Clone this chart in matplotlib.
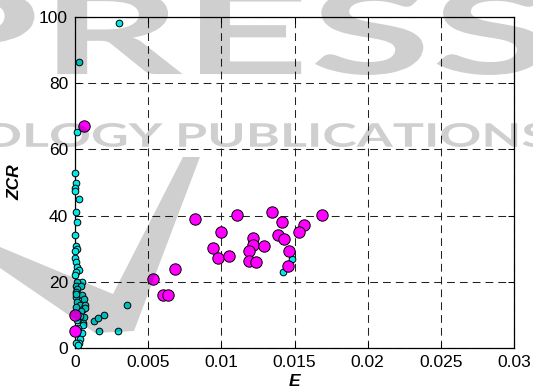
import matplotlib
matplotlib.use('Agg')
import matplotlib.pyplot as plt
from matplotlib.textpath import TextPath
from matplotlib.font_manager import FontProperties
from matplotlib.patches import PathPatch, Polygon
from matplotlib.transforms import Affine2D

plt.rcParams['font.family'] = ['Liberation Sans', 'DejaVu Sans']

# speech frames (cyan) : energy E and zero crossing rate ZCR
speech_e = [0.00298, 0.00025, 0.00014, 0.0, 0.0001, 0.0, 0.00002, 0.0003, 0.00006,
            0.00014, 0.0, 0.00008, 0.00013, 0.00003, 0.00002, 0.00006, 0.00016,
            0.00027, 0.00009, 0.00002, 0.00046, 0.00011, 0.00005, 0.00043, 0.00016,
            0.00005, 0.00046, 0.00007, 0.00064, 0.00011, 0.00034, 0.00066, 0.00057,
            0.00068, 0.0004, 0.0006, 0.00034, 0.00057, 0.00052, 0.00048, 0.00034,
            0.00027, 0.00009, 0.00023, 0.00132, 0.00155, 0.002, 0.00353, 0.00166,
            0.00294, 0.01485, 0.01424, 0.0001, 0.00004, 0.00015, 0.0002]
speech_zcr = [98.2, 86.3, 65.2, 53, 50, 48.2, 47.3, 45, 41.1,
              38.1, 34, 30.8, 30, 29.2, 27.3, 26.1, 24.6,
              23.6, 23, 22, 20, 19.9, 18.6, 18.7, 17.9,
              17, 15.9, 15.5, 14.9, 13.9, 13, 12.9, 11.7,
              12, 11.3, 9.5, 9.8, 7.5, 7, 4.6, 2.8,
              1.6, 1.4, 0.9, 8.2, 9, 10, 13, 5.1,
              5.1, 27, 23, 12.5, 16.3, 8.5, 6]

# music frames (magenta)
music_e = [0.0006, 0.0, 0.0, 0.00535, 0.00604, 0.00638, 0.00686, 0.0082, 0.0111,
           0.01348, 0.01686, 0.01417, 0.01563, 0.01529, 0.00996, 0.01219, 0.0139,
           0.01428, 0.01219, 0.01292, 0.00941, 0.01189, 0.0146, 0.00975, 0.0105,
           0.01189, 0.01235, 0.01453]
music_zcr = [67, 10, 5, 20.8, 16, 16, 24, 39, 40.2,
             41, 40.2, 38, 37.2, 35, 35, 33.3, 34.1,
             32.9, 31.1, 30.9, 30.1, 29.3, 29.2, 27.1, 27.9,
             26.3, 26.1, 24.9]

W, H = 533, 390
fig = plt.figure(figsize=(W / 100, H / 100), dpi=100)
ax = fig.add_axes([75 / W, 1 - 348 / H, 439 / W, 331 / H])

ax.plot(speech_e, speech_zcr, 'o', ms=4.8, mfc='#00e8e8', mec='k', mew=0.7,
        zorder=3, clip_on=False)
ax.plot(music_e, music_zcr, 'o', ms=8.2, mfc='#ff00ff', mec='k', mew=0.7,
        zorder=4, clip_on=False)

ax.set_xlim(0, 0.03)
ax.set_ylim(0, 100)
ax.set_xticks([0, 0.005, 0.01, 0.015, 0.02, 0.025, 0.03])
ax.set_xticklabels(['0', '0.005', '0.01', '0.015', '0.02', '0.025', '0.03'])
ax.set_yticks([0, 20, 40, 60, 80, 100])
ax.grid(True, linestyle=(0, (7.5, 4.8)), color='#222222', linewidth=0.75)
ax.tick_params(direction='in', top=True, right=True, length=4, width=0.75,
               labelsize=12.5, pad=5)
for sp in ax.spines.values():
    sp.set_linewidth(0.9)

ax.set_xlabel('E', fontsize=12.5, fontweight='bold', fontstyle='italic', labelpad=3)
ax.set_ylabel('ZCR', fontsize=12.5, fontweight='bold', fontstyle='italic', labelpad=12)


# publisher watermark drawn over everything
def watermark(s, x0, x1, ytop, ybot):
    tp = TextPath((0, 0), s, size=1, prop=FontProperties(family='Lato', weight='bold'))
    ext = tp.get_extents()
    sx = (x1 - x0) / W / ext.width
    sy = (ybot - ytop) / H / ext.height
    tr = Affine2D().translate(-ext.x0, -ext.y0).scale(sx, sy).translate(x0 / W, 1 - ybot / H)
    fig.add_artist(PathPatch(tp, transform=tr + fig.transFigure, fc='k', ec='none',
                             alpha=0.19, zorder=10))


watermark('PRESS', -80, 545, -12, 75)
watermark('OLOGY PUBLICATIONS', -18, 548, 123, 147)
vshape = [(0, 247), (113, 294), (183, 157), (200, 157), (134, 331), (95, 333), (0, 268)]
fig.add_artist(Polygon([(x / W, 1 - y / H) for x, y in vshape], closed=True,
                       transform=fig.transFigure, fc='k', ec='none', alpha=0.19, zorder=10))

fig.savefig('out.png', dpi=100)
